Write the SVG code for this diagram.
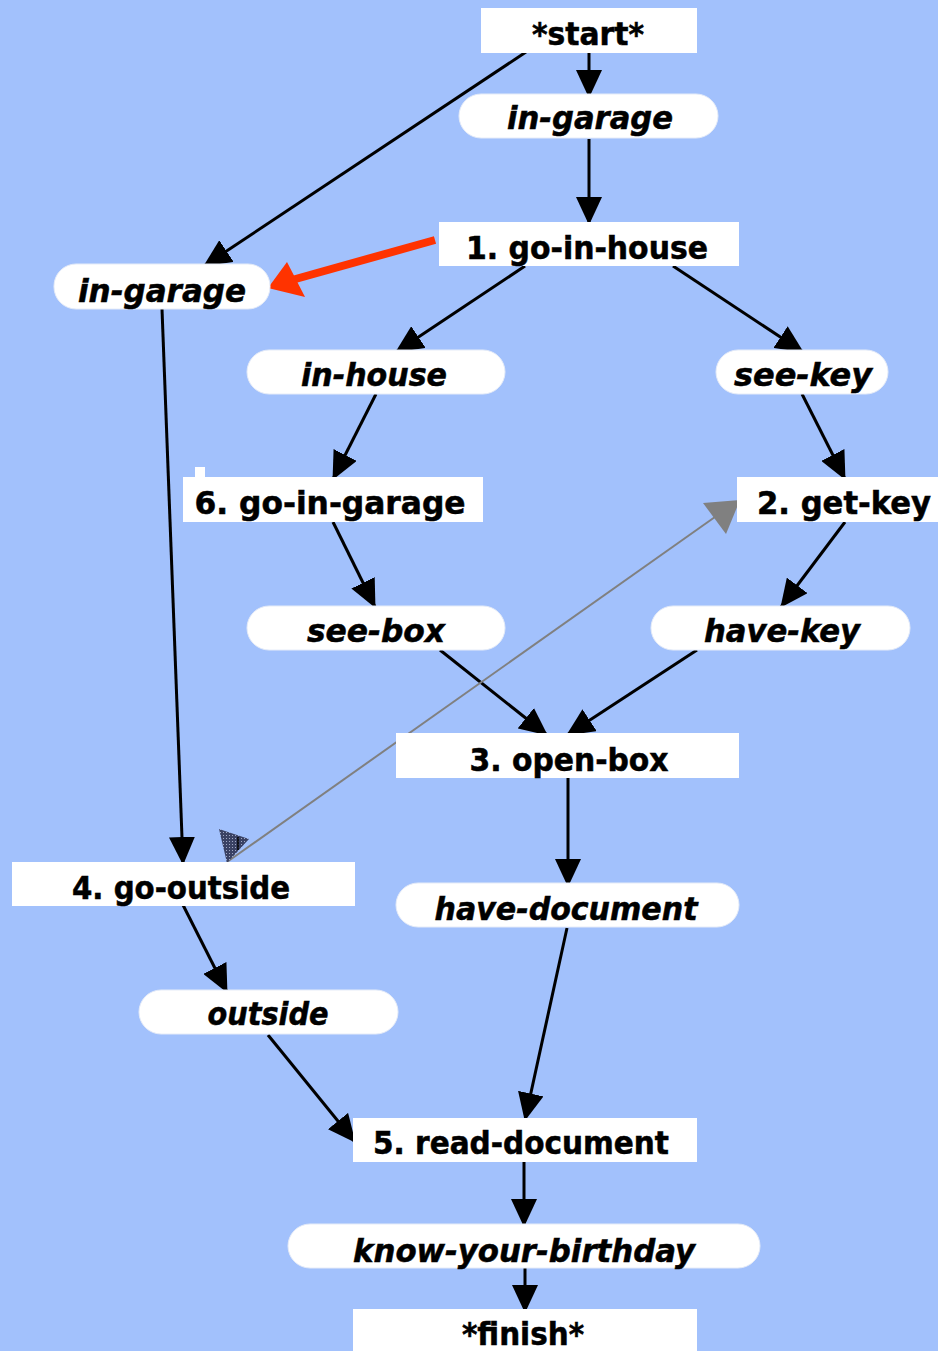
<svg xmlns="http://www.w3.org/2000/svg" width="938" height="1351" viewBox="0 0 938 1351">
  <style>
    .act { fill: #ffffff; }
    .st { fill: #ffffff; stroke: #e6ecf8; stroke-width: 1; }
    .lbl { font-family: "DejaVu Sans Condensed", "DejaVu Sans", "Liberation Sans", sans-serif; font-weight: bold; font-size: 32px; fill: #000; stroke: #000; stroke-width: 0.5; text-anchor: middle; }
    .it { font-style: italic; }
    .edge { stroke: #000; stroke-width: 3; fill: none; marker-end: url(#ah); }
  </style>
  <defs>
    <marker id="ah" viewBox="0 0 28 26" refX="27" refY="13" markerWidth="28" markerHeight="26" markerUnits="userSpaceOnUse" orient="auto">
      <path d="M0,0 L28,13 L0,26 z" fill="#000"/>
    </marker>
    <pattern id="chk" width="3" height="3" patternUnits="userSpaceOnUse">
      <rect width="3" height="3" fill="#3a4264"/>
      <rect x="1" y="1" width="1" height="1" fill="#a0a8c4"/>
    </pattern>
  </defs>

  <rect width="938" height="1351" fill="#a2c1fc"/>

  <!-- connectors, drawn beneath the nodes -->
  <g id="connectors">
    <line class="edge" x1="589" y1="53" x2="589" y2="97"/>
    <line class="edge" x1="526" y1="52" x2="204" y2="266"/>
    <line class="edge" x1="589" y1="139" x2="589" y2="224"/>
    <line class="edge" x1="525" y1="266" x2="396" y2="352"/>
    <line class="edge" x1="673" y1="266" x2="803" y2="352"/>
    <line class="edge" x1="376" y1="394" x2="333" y2="479"/>
    <line class="edge" x1="802" y1="394" x2="845" y2="479"/>
    <line class="edge" x1="333" y1="522" x2="375" y2="607"/>
    <line class="edge" x1="845" y1="522" x2="781" y2="607"/>
    <line class="edge" x1="440" y1="650" x2="547" y2="735"/>
    <line class="edge" x1="697" y1="650" x2="567" y2="735"/>
    <line class="edge" x1="162" y1="309" x2="183" y2="864"/>
    <line class="edge" x1="568" y1="778" x2="568" y2="886"/>
    <line class="edge" x1="183" y1="905" x2="227" y2="992"/>
    <line class="edge" x1="567" y1="928" x2="525" y2="1120"/>
    <line class="edge" x1="268" y1="1035" x2="355" y2="1142"/>
    <line class="edge" x1="524" y1="1162" x2="524" y2="1226"/>
    <line class="edge" x1="525" y1="1268" x2="525" y2="1312"/>

    <!-- red pointer -->
    <line x1="435" y1="240" x2="292" y2="280" stroke="#ff3300" stroke-width="8"/>
    <polygon points="268,288 287,262 305,297" fill="#ff3300"/>

    <!-- grey link between go-outside and get-key -->
    <line x1="227" y1="862" x2="722" y2="512" stroke="#808080" stroke-width="2"/>
    <polygon points="740,500 703,503 726,534" fill="#808080"/>
    <polygon points="219,829 249,839 227,863" fill="url(#chk)"/>
    <line x1="238" y1="837" x2="238" y2="850" stroke="#000" stroke-width="1.5"/>
  </g>

  <g id="start">
    <rect class="act" x="481" y="8" width="216" height="45"/>
    <text class="lbl" x="588" y="45" textLength="112" lengthAdjust="spacingAndGlyphs">*start*</text>
  </g>
  <g id="in-garage-1">
    <rect class="st" x="459" y="94" width="259" height="44" rx="22"/>
    <text class="lbl it" x="590" y="129" textLength="166" lengthAdjust="spacingAndGlyphs">in-garage</text>
  </g>
  <g id="go-in-house">
    <rect class="act" x="439" y="222" width="300" height="44"/>
    <text class="lbl" x="587" y="259" textLength="242" lengthAdjust="spacingAndGlyphs">1. go-in-house</text>
  </g>
  <g id="in-garage-2">
    <rect class="st" x="54" y="264" width="216" height="45" rx="22"/>
    <text class="lbl it" x="162" y="302" textLength="168" lengthAdjust="spacingAndGlyphs">in-garage</text>
  </g>
  <g id="in-house">
    <rect class="st" x="247" y="350" width="258" height="44" rx="22"/>
    <text class="lbl it" x="374" y="386" textLength="146" lengthAdjust="spacingAndGlyphs">in-house</text>
  </g>
  <g id="see-key">
    <rect class="st" x="716" y="350" width="172" height="44" rx="22"/>
    <text class="lbl it" x="803" y="386" textLength="138" lengthAdjust="spacingAndGlyphs">see-key</text>
  </g>
  <g id="go-in-garage">
    <rect class="act" x="195" y="467" width="10" height="12"/>
    <rect class="act" x="183" y="477" width="300" height="45"/>
    <text class="lbl" x="330" y="514" textLength="271" lengthAdjust="spacingAndGlyphs">6.  go-in-garage</text>
  </g>
  <g id="get-key">
    <rect class="act" x="737" y="477" width="201" height="45"/>
    <text class="lbl" x="844" y="514" textLength="174" lengthAdjust="spacingAndGlyphs">2.  get-key</text>
  </g>
  <g id="see-box">
    <rect class="st" x="247" y="606" width="258" height="44" rx="22"/>
    <text class="lbl it" x="376" y="642" textLength="138" lengthAdjust="spacingAndGlyphs">see-box</text>
  </g>
  <g id="have-key">
    <rect class="st" x="651" y="606" width="259" height="44" rx="22"/>
    <text class="lbl it" x="782" y="642" textLength="156" lengthAdjust="spacingAndGlyphs">have-key</text>
  </g>
  <g id="open-box">
    <rect class="act" x="396" y="733" width="343" height="45"/>
    <text class="lbl" x="569" y="771" textLength="199" lengthAdjust="spacingAndGlyphs">3. open-box</text>
  </g>
  <g id="go-outside">
    <rect class="act" x="12" y="862" width="343" height="44"/>
    <text class="lbl" x="181" y="899" textLength="218" lengthAdjust="spacingAndGlyphs">4. go-outside</text>
  </g>
  <g id="have-document">
    <rect class="st" x="396" y="883" width="343" height="44" rx="22"/>
    <text class="lbl it" x="566" y="920" textLength="263" lengthAdjust="spacingAndGlyphs">have-document</text>
  </g>
  <g id="outside">
    <rect class="st" x="139" y="990" width="259" height="44" rx="22"/>
    <text class="lbl it" x="268" y="1025" textLength="121" lengthAdjust="spacingAndGlyphs">outside</text>
  </g>
  <g id="read-document">
    <rect class="act" x="353" y="1118" width="344" height="44"/>
    <text class="lbl" x="521" y="1154" textLength="296" lengthAdjust="spacingAndGlyphs">5. read-document</text>
  </g>
  <g id="know-your-birthday">
    <rect class="st" x="288" y="1224" width="472" height="44" rx="22"/>
    <text class="lbl it" x="524" y="1262" textLength="342" lengthAdjust="spacingAndGlyphs">know-your-birthday</text>
  </g>
  <g id="finish">
    <rect class="act" x="353" y="1309" width="344" height="42"/>
    <text class="lbl" x="523" y="1345" textLength="122" lengthAdjust="spacingAndGlyphs">*finish*</text>
  </g>
</svg>
